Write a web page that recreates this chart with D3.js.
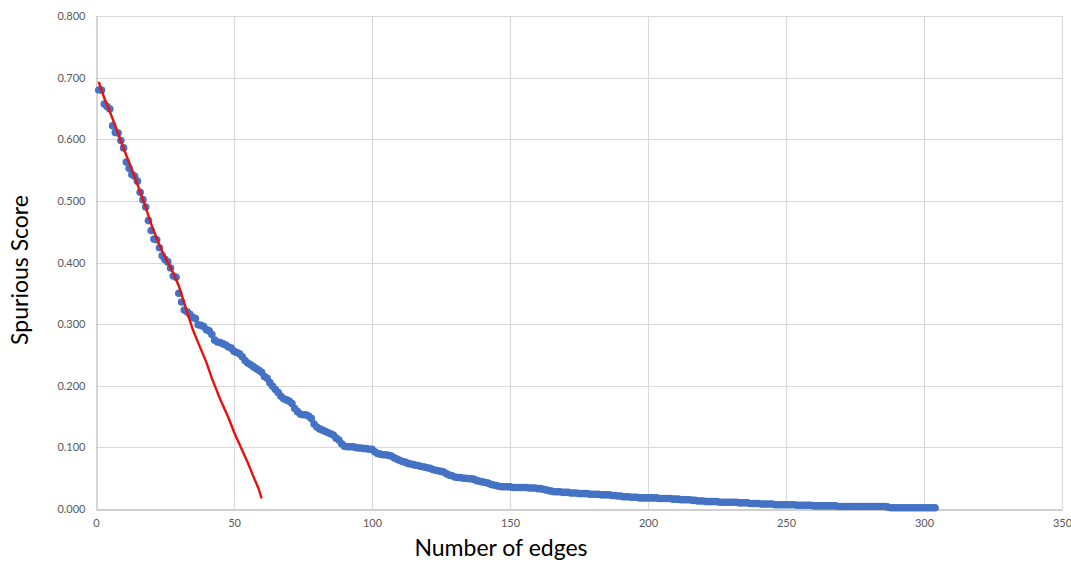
<!DOCTYPE html>
<html>
<head>
<meta charset="utf-8">
<script src="https://cdn.jsdelivr.net/npm/d3@7"></script>
<style>
html,body{margin:0;padding:0;background:#fff;}
svg{display:block;}
</style>
</head>
<body>
<svg id="chart" width="1071" height="563"></svg>
<script>
// Blue series: spurious score per number of edges (x = 1..303)
const blueScores = [
0.680,0.680,0.657,0.653,0.649,0.622,0.611,0.610,0.598,0.586,
0.563,0.553,0.543,0.540,0.532,0.514,0.502,0.490,0.468,0.452,
0.438,0.437,0.424,0.411,0.405,0.401,0.391,0.378,0.376,0.350,
0.336,0.323,0.320,0.316,0.311,0.309,0.299,0.298,0.296,0.291,
0.289,0.283,0.274,0.271,0.270,0.268,0.266,0.263,0.261,0.256,
0.254,0.252,0.247,0.241,0.237,0.234,0.231,0.228,0.225,0.222,
0.215,0.212,0.205,0.199,0.194,0.189,0.183,0.179,0.177,0.175,
0.171,0.163,0.158,0.154,0.153,0.153,0.151,0.147,0.138,0.133,
0.130,0.128,0.126,0.124,0.122,0.120,0.115,0.112,0.106,0.102,
0.101,0.101,0.101,0.100,0.099,0.099,0.098,0.098,0.097,0.097,
0.093,0.090,0.089,0.088,0.088,0.087,0.086,0.083,0.081,0.079,
0.077,0.076,0.074,0.073,0.072,0.071,0.070,0.069,0.068,0.067,
0.066,0.064,0.063,0.062,0.061,0.060,0.057,0.055,0.054,0.052,
0.051,0.051,0.050,0.050,0.049,0.049,0.048,0.046,0.045,0.044,
0.043,0.042,0.040,0.039,0.038,0.037,0.036,0.036,0.036,0.036,
0.035,0.035,0.035,0.035,0.035,0.035,0.034,0.034,0.034,0.033,
0.033,0.032,0.031,0.030,0.029,0.028,0.028,0.028,0.027,0.027,
0.027,0.026,0.026,0.026,0.025,0.025,0.025,0.025,0.024,0.024,
0.024,0.024,0.023,0.023,0.023,0.023,0.022,0.022,0.021,0.021,
0.020,0.020,0.020,0.019,0.019,0.019,0.018,0.018,0.018,0.018,
0.018,0.018,0.018,0.017,0.017,0.017,0.017,0.017,0.016,0.016,
0.016,0.015,0.015,0.015,0.015,0.014,0.014,0.013,0.013,0.013,
0.012,0.012,0.012,0.012,0.012,0.011,0.011,0.011,0.011,0.011,
0.011,0.011,0.010,0.010,0.010,0.010,0.009,0.009,0.009,0.009,
0.008,0.008,0.008,0.008,0.008,0.007,0.007,0.007,0.007,0.007,
0.007,0.007,0.007,0.006,0.006,0.006,0.006,0.006,0.006,0.005,
0.005,0.005,0.005,0.005,0.005,0.005,0.005,0.005,0.004,0.004,
0.004,0.004,0.004,0.004,0.004,0.004,0.004,0.004,0.004,0.004,
0.004,0.004,0.004,0.004,0.004,0.004,0.003,0.002,0.002,0.002,
0.002,0.002,0.002,0.002,0.002,0.002,0.002,0.002,0.002,0.002,
0.002,0.002,0.002,0.002
];

// Red line: x positions and values
const redX = [1,3,5,8,10,13,15,18,20,23,25,28,30,33,35,37,40,42,45,48,50,53,55,57,59,60];
const redY = [0.693,0.667,0.645,0.610,0.585,0.551,0.527,0.490,0.462,0.428,0.409,0.383,0.362,0.320,0.292,0.270,0.238,0.212,0.178,0.148,0.125,0.095,0.075,0.053,0.032,0.017];

const xTicks = [0,50,100,150,200,250,300,350];
const yTicks = [0,0.1,0.2,0.3,0.4,0.5,0.6,0.7,0.8];
const xTitle = "Number of edges";
const yTitle = "Spurious Score";

const svg = d3.select("#chart");
const x = d3.scaleLinear().domain([0,350]).range([96,1062]);
const y = d3.scaleLinear().domain([0,0.8]).range([509,16]);

// gridlines
svg.append("g").selectAll("line.h").data(yTicks.filter(d=>d>0)).join("line")
  .attr("x1",x(0)).attr("x2",x(350))
  .attr("y1",d=>Math.round(y(d))+0.5).attr("y2",d=>Math.round(y(d))+0.5)
  .attr("stroke","#d9d9d9").attr("stroke-width",1.2);
svg.append("g").selectAll("line.v").data(xTicks.filter(d=>d>0)).join("line")
  .attr("x1",d=>Math.round(x(d))+0.5).attr("x2",d=>Math.round(x(d))+0.5)
  .attr("y1",y(0)).attr("y2",y(0.8))
  .attr("stroke","#d9d9d9").attr("stroke-width",1.2);

// axes
const xAxis = d3.axisBottom(x).tickValues(xTicks).tickSize(0).tickPadding(10).tickFormat(d3.format("d"));
const yAxis = d3.axisLeft(y).tickValues(yTicks).tickSize(0).tickPadding(11).tickFormat(d3.format(".3f"));
const gx = svg.append("g").attr("transform",`translate(0,${Math.round(y(0))+0.5})`).call(xAxis);
const gy = svg.append("g").attr("transform",`translate(${Math.round(x(0))+0.5},0)`).call(yAxis);
[gx,gy].forEach(g=>{
  g.select(".domain").attr("stroke","#bfbfbf").attr("stroke-width",1.3);
  g.selectAll("text").attr("fill","#595959").style("font-family","Lato, 'Open Sans', sans-serif").style("font-size","11px");
});

// blue points
svg.append("g").selectAll("circle").data(blueScores).join("circle")
  .attr("cx",(d,i)=>x(i+1)).attr("cy",d=>y(d)).attr("r",3.8)
  .attr("fill","#4472C4");

// red line
const redData = redX.map((v,i)=>[v,redY[i]]);
svg.append("path").datum(redData)
  .attr("fill","none").attr("stroke","#E8110F").attr("stroke-width",2.4)
  .attr("d",d3.line().x(d=>x(d[0])).y(d=>y(d[1])));

// titles
svg.append("text").text(xTitle)
  .attr("x",501).attr("y",556).attr("text-anchor","middle")
  .style("font-family","Lato, 'Open Sans', sans-serif").style("font-size","23px").attr("fill","#000");
svg.append("text").text(yTitle)
  .attr("transform","translate(28,270) rotate(-90)").attr("text-anchor","middle")
  .style("font-family","Lato, 'Open Sans', sans-serif").style("font-size","23px").attr("fill","#000");
</script>
</body>
</html>
